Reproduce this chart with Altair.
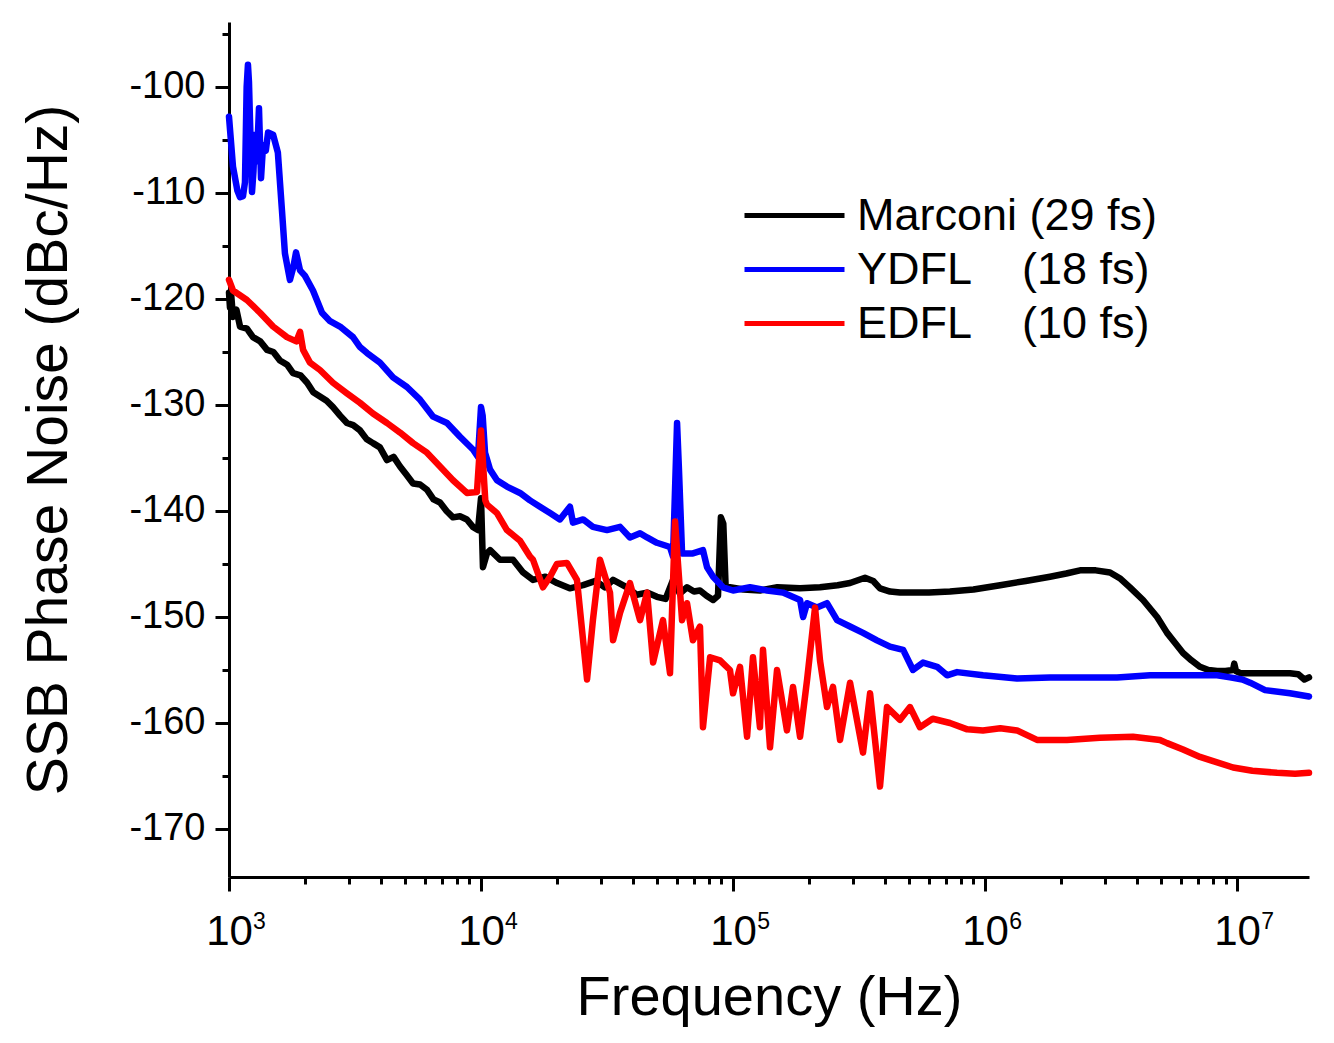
import altair as alt
import pandas as pd

NBSP = "\u00a0"
SERIES = ["Marconi (29 fs)", "YDFL" + NBSP * 4 + "(18 fs)", "EDFL" + NBSP * 4 + "(10 fs)"]
COLORS = ["#000000", "#0000ff", "#ff0000"]

# (frequency Hz, SSB phase noise dBc/Hz)
marconi = [
    (1000, -119.4), (1009, -120.8), (1020, -119.6), (1037, -121.7), (1070, -121.0),
    (1106, -122.6), (1178, -122.8), (1245, -123.6), (1330, -124.0), (1416, -124.8),
    (1500, -125.0), (1593, -125.8), (1700, -126.2), (1795, -127.0), (1920, -127.2),
    (2042, -127.9), (2160, -128.8), (2296, -129.2), (2440, -129.6), (2586, -130.2),
    (2760, -131.0), (2938, -131.7), (3110, -131.9), (3311, -132.4), (3510, -133.2),
    (3727, -133.6), (3970, -134.0), (4236, -135.2), (4500, -134.9), (4772, -135.8),
    (5070, -136.6), (5375, -137.4), (5730, -137.5), (6105, -138.0), (6480, -138.9),
    (6876, -139.2), (7300, -140.0), (7743, -140.6), (8250, -140.5), (8790, -140.8),
    (9290, -141.5), (9727, -141.8), (10000, -138.8), (10180, -145.3), (10560, -144.0),
    (10864, -143.7), (11893, -144.6), (13397, -144.6), (14690, -145.8), (16080, -146.5),
    (18000, -146.2), (20030, -146.8), (22500, -147.3), (25420, -147.0), (28500, -146.6),
    (31000, -147.2), (33420, -146.5), (37930, -147.2), (41500, -147.9), (45600, -147.7),
    (49880, -148.1), (54000, -148.3), (57790, -146.5), (61500, -147.8), (65690, -147.2),
    (70000, -147.6), (73940, -147.5), (78500, -148.0), (83370, -148.4), (87170, -148.0),
    (89500, -140.6), (91500, -141.2), (93500, -147.2), (97250, -147.2), (110000, -147.4),
    (127900, -147.5), (150000, -147.2), (184500, -147.3), (221400, -147.2), (260000, -147.0),
    (291300, -146.8), (334000, -146.3), (360000, -146.6), (383000, -147.3), (420000, -147.6),
    (460000, -147.7), (600000, -147.7), (726000, -147.6), (900000, -147.4), (1148000, -147.0),
    (1450000, -146.6), (1811000, -146.2), (2100000, -145.9), (2382000, -145.6), (2750000, -145.6),
    (3133000, -145.8), (3450000, -146.4), (3758000, -147.2), (4236000, -148.4), (4818000, -150.0),
    (5277000, -151.5), (5700000, -152.5), (6106000, -153.4), (6600000, -154.1), (7129000, -154.7),
    (7700000, -155.0), (8337000, -155.1), (9000000, -155.1), (9643000, -155.0), (9750000, -154.4),
    (9900000, -155.1), (10300000, -155.3), (11500000, -155.3), (13150000, -155.3), (14800000, -155.3),
    (16220000, -155.3), (17500000, -155.4), (18500000, -155.9), (19300000, -155.7),
]

ydfl = [
    (1000, -102.8), (1037, -107.5), (1080, -109.8), (1106, -110.4), (1136, -110.3),
    (1157, -109.0), (1175, -100.0), (1189, -97.9), (1200, -99.5), (1211, -103.0),
    (1234, -109.9), (1250, -108.0), (1268, -104.5), (1290, -107.0), (1315, -102.0),
    (1340, -108.6), (1365, -105.5), (1400, -106.0), (1429, -104.3), (1496, -104.5),
    (1563, -106.2), (1622, -111.6), (1667, -115.7), (1745, -118.2), (1800, -117.0),
    (1845, -115.6), (1914, -117.3), (2000, -117.8), (2154, -119.2), (2339, -121.3),
    (2518, -122.1), (2757, -122.6), (3105, -123.6), (3300, -124.5), (3532, -125.1),
    (3972, -126.0), (4477, -127.4), (5083, -128.3), (5728, -129.5), (6457, -131.1),
    (7331, -131.7), (8256, -133.0), (9290, -134.2), (9727, -134.9), (10000, -130.2),
    (10150, -131.0), (10375, -134.5), (10864, -136.1), (11570, -137.1), (12672, -137.7),
    (14280, -138.3), (15640, -139.0), (17140, -139.6), (18790, -140.2), (20560, -140.8),
    (22540, -139.6), (23170, -141.1), (25420, -140.8), (27800, -141.5), (31620, -141.8),
    (35630, -141.5), (39000, -142.5), (42760, -142.1), (45600, -142.5), (49880, -143.0),
    (56230, -143.4), (57790, -144.3), (59970, -131.7), (61000, -136.0), (62780, -144.0),
    (69340, -144.0), (76000, -143.7), (78880, -145.3), (83370, -146.2), (91250, -147.2),
    (100000, -147.5), (116800, -147.2), (136400, -147.5), (157800, -147.7), (184500, -148.4),
    (189700, -150.0), (196800, -148.7), (215300, -149.1), (236000, -148.7), (258700, -150.3),
    (291300, -150.9), (328000, -151.5), (372500, -152.2), (419600, -152.8), (473200, -153.1),
    (517900, -155.0), (567500, -154.3), (645300, -154.7), (706900, -155.5), (774800, -155.2),
    (982000, -155.5), (1340000, -155.8), (1811000, -155.7), (2449000, -155.7), (3342000, -155.7),
    (4519000, -155.5), (6106000, -155.5), (8337000, -155.5), (9380000, -155.7), (10500000, -155.9),
    (11270000, -156.2), (12920000, -156.9), (16220000, -157.2), (19300000, -157.5),
]

edfl = [
    (1000, -118.2), (1037, -119.2), (1178, -120.1), (1328, -121.3), (1496, -122.6),
    (1698, -123.6), (1850, -124.0), (1914, -123.1), (1968, -124.8), (2096, -126.0),
    (2296, -126.7), (2586, -127.9), (2938, -128.9), (3311, -129.8), (3727, -130.8),
    (4236, -131.7), (4772, -132.6), (5375, -133.6), (6105, -134.5), (6876, -135.8),
    (7743, -137.1), (8790, -138.3), (9638, -138.2), (10000, -132.4), (10400, -139.0),
    (10566, -139.4), (11570, -140.2), (12672, -141.8), (14280, -142.8), (15640, -144.3),
    (16080, -144.6), (17620, -147.2), (18790, -146.2), (20000, -145.0), (21930, -144.9),
    (24030, -146.5), (26350, -155.9), (27800, -150.3), (29650, -144.6), (32500, -147.7),
    (33420, -152.2), (35630, -149.6), (39000, -146.8), (42760, -150.3), (45600, -147.7),
    (48180, -154.3), (52730, -150.3), (56230, -155.3), (58880, -141.0), (60500, -145.0),
    (62780, -150.3), (65690, -148.7), (69340, -152.2), (73940, -150.9), (76000, -160.4),
    (81100, -153.8), (88750, -154.1), (97250, -155.0), (100000, -157.2), (106600, -154.7),
    (113700, -161.3), (120000, -153.8), (127900, -160.4), (131500, -153.1), (140200, -162.3),
    (149500, -155.0), (163700, -160.7), (173000, -156.6), (184500, -161.3), (196800, -155.9),
    (211600, -149.1), (221400, -154.1), (236000, -158.5), (249300, -156.6), (265900, -161.6),
    (291300, -156.2), (328000, -162.8), (349800, -157.2), (383000, -166.0), (408300, -158.5),
    (460000, -159.7), (504000, -158.5), (551700, -160.4), (620000, -159.6), (726000, -160.0),
    (850000, -160.6), (981000, -160.7), (1150000, -160.5), (1340000, -160.7), (1608000, -161.6),
    (2114000, -161.6), (2858000, -161.4), (3864000, -161.3), (4945000, -161.6), (5277000, -161.9),
    (6106000, -162.5), (7129000, -163.2), (7815000, -163.5), (9643000, -164.2), (11500000, -164.5),
    (14410000, -164.7), (17000000, -164.8), (19300000, -164.7),
]

Y_TICKS = [-170, -165, -160, -155, -150, -145, -140, -135, -130, -125, -120, -115, -110, -105, -100, -95]
X_MAJOR = [1000, 10000, 100000, 1000000, 10000000]
X_EXPONENTS = ["3", "4", "5", "6", "7"]
X_MULT = [1, 2, 3, 4, 5, 6, 7, 8, 9]
X_MAX = 19300000
X_TICKS = [m * d for d in X_MAJOR for m in X_MULT if m * d <= X_MAX]

rows = []
for name, pts in zip(SERIES, [marconi, ydfl, edfl]):
    for hz, db in pts:
        rows.append({"series": name, "hz": hz, "db": db})
df = pd.DataFrame(rows)
sup_df = pd.DataFrame({"hz": X_MAJOR, "exp": X_EXPONENTS})

FONT = "Liberation Sans"
x_major_test = "indexof([1000,10000,100000,1000000,10000000], datum.value) >= 0"
x_scale = alt.Scale(type="log", domain=[1000, X_MAX], nice=False)

sup_expr = " : ".join(
    f"datum.value == {v} ? '{e}'" for v, e in zip(X_MAJOR, X_EXPONENTS)
) + " : ''"

lines = alt.Chart(df).mark_line(strokeWidth=6.5, strokeJoin="round", strokeCap="round").encode(
    x=alt.X(
        "hz:Q",
        scale=x_scale,
        axis=alt.Axis(
            orient="bottom",
            values=X_TICKS,
            title="Frequency (Hz)",
            labelExpr=f"{x_major_test} ? '10' : ''",
            tickSize={"condition": {"test": x_major_test, "value": 14}, "value": 7},
            labelFlush=False,
            labelOverlap=False,
            labelFontSize=42,
            labelPadding=20,
            titleFontSize=56,
            titlePadding=18,
            grid=False,
        ),
    ),
    y=alt.Y(
        "db:Q",
        scale=alt.Scale(domain=[-174.53, -93.87], nice=False, zero=False),
        axis=alt.Axis(
            values=Y_TICKS,
            title="SSB Phase Noise (dBc/Hz)",
            labelExpr="datum.value % 10 == 0 ? '-' + abs(datum.value) : ''",
            tickSize={"condition": {"test": "datum.value % 10 == 0", "value": 14}, "value": 7},
            labelOverlap=False,
            labelFontSize=38,
            labelPadding=10,
            titleFontSize=57,
            titlePadding=50,
            grid=False,
        ),
    ),
    color=alt.Color(
        "series:N",
        scale=alt.Scale(domain=SERIES, range=COLORS),
        legend=alt.Legend(
            title=None,
            orient="none",
            legendX=538,
            legendY=166,
            symbolType="M-2,0H2",
            symbolSize=2500,
            symbolStrokeWidth=5,
            labelFontSize=45,
            labelFont=FONT,
            labelColor="black",
            labelOffset=35,
            labelLimit=0,
            rowPadding=3,
        ),
    ),
)

# superscript exponents of the decade labels, drawn as a second bottom axis
sup = alt.Chart(sup_df).mark_point(opacity=0).encode(
    x=alt.X(
        "hz:Q",
        scale=x_scale,
        axis=alt.Axis(
            orient="bottom",
            values=X_MAJOR,
            labelExpr=sup_expr,
            ticks=False,
            tickSize=0,
            domain=False,
            labelFlush=False,
            labelOverlap=False,
            labelFontSize=23,
            labelPadding=33,
            labelOffset=30,
            title=None,
            grid=False,
        ),
    ),
)

chart = alt.layer(lines, sup).resolve_axis(x="independent").properties(
    width=1080,
    height=855,
    autosize=alt.AutoSizeParams(type="none"),
    padding={"left": 221, "top": 14, "right": 17, "bottom": 152},
    background="white",
).configure_view(
    stroke=None
).configure_axis(
    domainColor="black",
    domainWidth=3,
    tickColor="black",
    tickWidth=3,
    labelColor="black",
    titleColor="black",
    labelFont=FONT,
    titleFont=FONT,
    titleFontWeight="normal",
)

chart.save("out.html", embed_options={"renderer": "svg", "actions": False})
